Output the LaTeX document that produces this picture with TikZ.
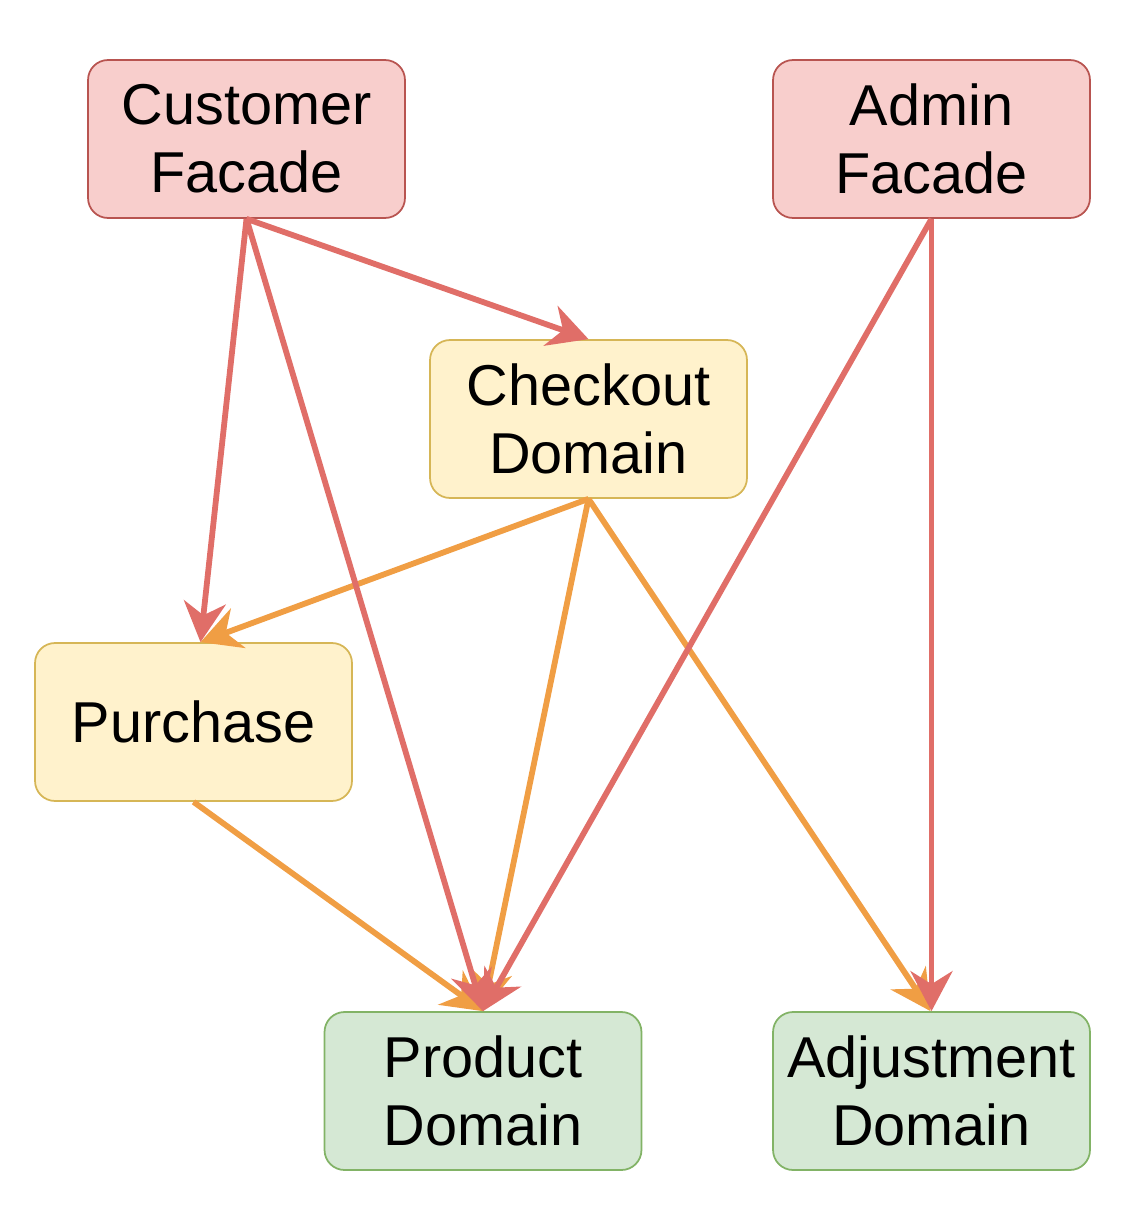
\documentclass[tikz,border=0pt]{standalone}
\usepackage{fontspec}
\setmainfont{Liberation Sans}
\usetikzlibrary{arrows.meta}

\definecolor{facadefill}{HTML}{F8CECC}
\definecolor{facadeline}{HTML}{B85450}
\definecolor{domainfill}{HTML}{FFF2CC}
\definecolor{domainline}{HTML}{D6B656}
\definecolor{basefill}{HTML}{D5E8D4}
\definecolor{baseline}{HTML}{82B366}
\definecolor{redline}{HTML}{E06E68}
\definecolor{orangeline}{HTML}{F09E44}

\tikzset{
	block/.style={rounded corners=0.4cm, line width=1pt, minimum width=6.34cm, minimum height=3.16cm,
		align=center, font=\fontsize{32.8}{38.7}\selectfont, inner sep=0pt},
	facadebox/.style={block, draw=facadeline, fill=facadefill},
	domainbox/.style={block, draw=domainline, fill=domainfill},
	basebox/.style={block, draw=baseline, fill=basefill},
	dep/.style={line width=3.3pt, -{Stealth[length=0.8cm, width=0.84cm, inset=0.26cm]}},
	reddep/.style={dep, draw=redline, fill=redline},
	orangedep/.style={dep, draw=orangeline, fill=orangeline}
}

\begin{document}
\begin{tikzpicture}[x=0.02cm, y=-0.02cm]
		\useasboundingbox (0,0) rectangle (1138,1220);

		\node[facadebox] (cust) at (246.5,139) {Customer\\Facade};
		\node[facadebox] (admin) at (931.5,139) {Admin\\Facade};
		\node[domainbox] (check) at (588.5,419) {Checkout\\Domain};
		\node[domainbox] (purch) at (193.5,722) {Purchase};
		\node[basebox] (prod) at (483,1091) {Product\\Domain};
		\node[basebox] (adj) at (931.5,1091) {Adjustment\\Domain};

		% orange edges from the domain layer
		\draw[orangedep] (purch.south) -- (prod.north);
		\draw[orangedep] (check.south) -- ([xshift=0.14cm]purch.north);
		\draw[orangedep] (check.south) -- (prod.north);
		\draw[orangedep] (check.south) -- ([xshift=-0.02cm]adj.north);

		% red edges from the facades
		\draw[reddep] (cust.south) -- (check.north);
		\draw[reddep] (cust.south) -- ([xshift=0.14cm]purch.north);
		\draw[reddep] (cust.south) -- (prod.north);
		\draw[reddep] (admin.south) -- (prod.north);
		\draw[reddep] (admin.south) -- (adj.north);
	\end{tikzpicture}
\end{document}
